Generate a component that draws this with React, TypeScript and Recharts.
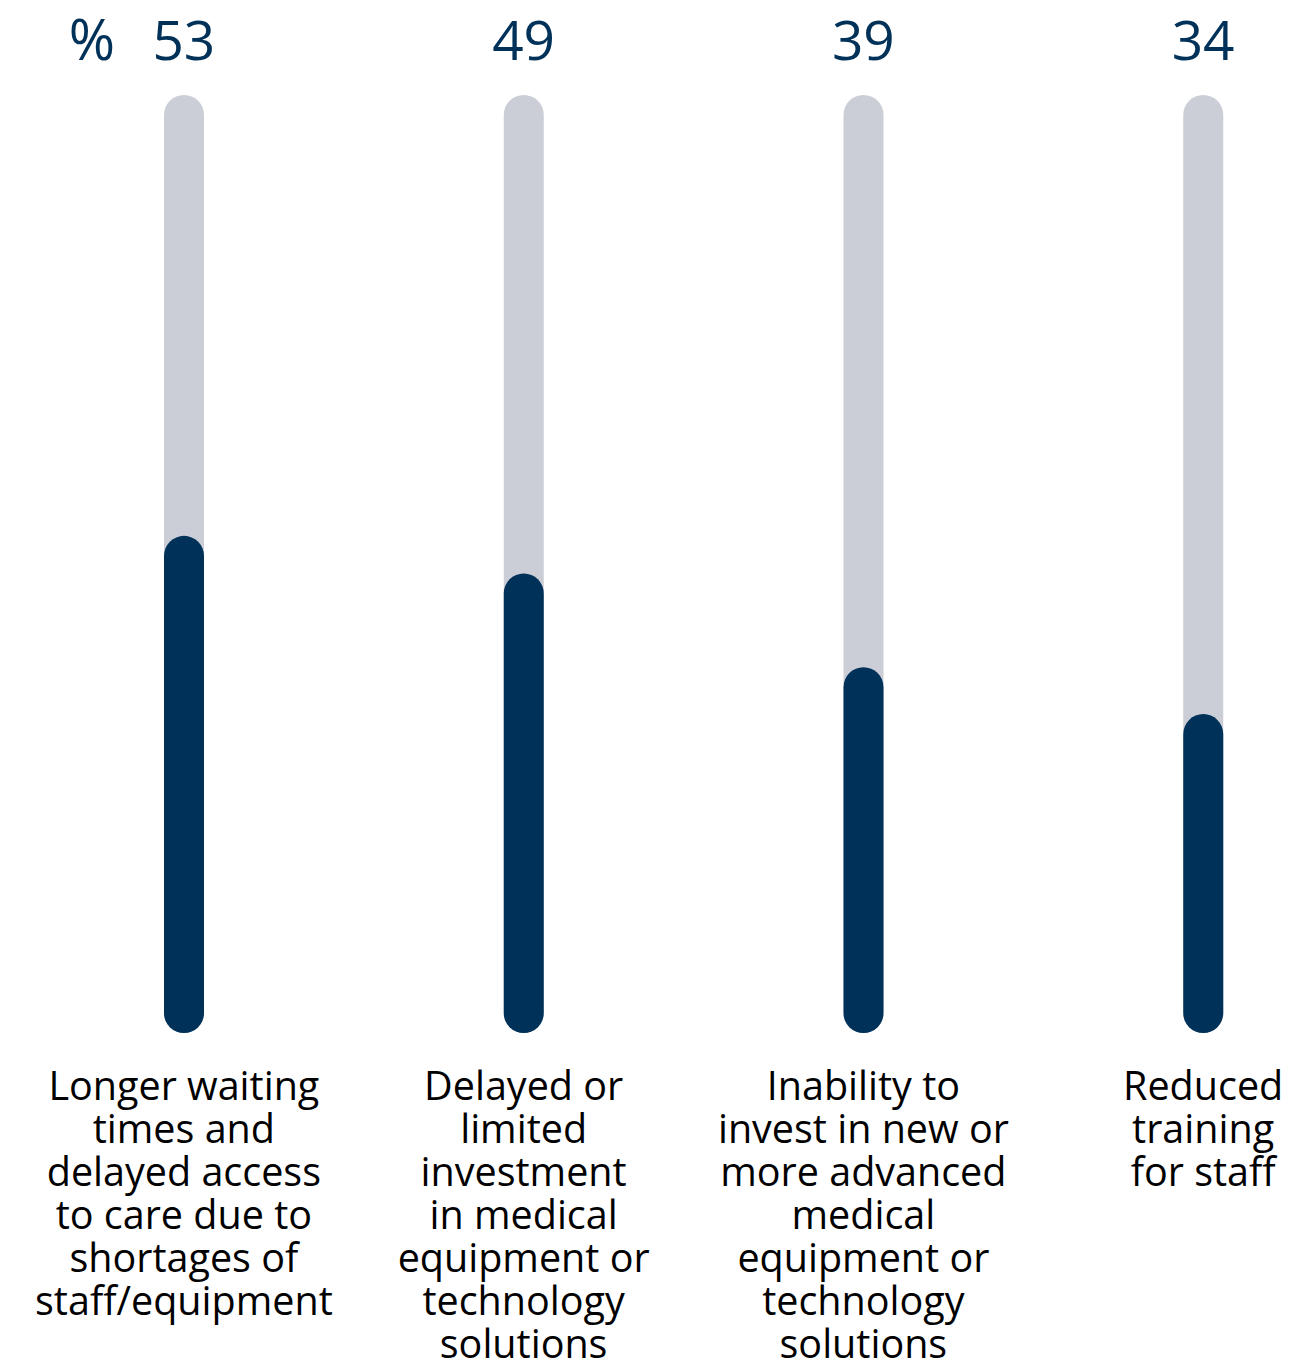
import { BarChart, Bar, XAxis, YAxis } from 'recharts';

const categories = ['waiting', 'investment', 'inability', 'training'];
const values = [53, 49, 39, 34];
const labelLines = [
  ['Longer waiting', 'times and', 'delayed access', 'to care due to', 'shortages of', 'staff/equipment'],
  ['Delayed or', 'limited', 'investment', 'in medical', 'equipment or', 'technology', 'solutions'],
  ['Inability to', 'invest in new or', 'more advanced', 'medical', 'equipment or', 'technology', 'solutions'],
  ['Reduced', 'training', 'for staff'],
];

const NAVY = '#003158';
const GREY = '#CBCED6';
const FONT = '"Open Sans", sans-serif';

const data = categories.map((c, i) => ({ name: c, value: values[i] }));

function ValueTick(props: any) {
  const { x, y, index } = props;
  return (
    <g>
      {index === 0 && (
        <text x={x - 92} y={y} dy={-27} textAnchor="middle" fontFamily={FONT} fontSize={56} fill={NAVY}>
          %
        </text>
      )}
      <text x={x} y={y} dy={-27} textAnchor="middle" fontFamily={FONT} fontSize={55} fill={NAVY}>
        {values[index]}
      </text>
    </g>
  );
}

function CategoryTick(props: any) {
  const { x, y, index } = props;
  const lines = labelLines[index] || [];
  return (
    <text x={x} y={y} textAnchor="middle" fontFamily={FONT} fontSize={39.5} fill="#000">
      {lines.map((l, i) => (
        <tspan key={i} x={x} dy={i === 0 ? 59 : 43}>
          {l}
        </tspan>
      ))}
    </text>
  );
}

export default function App() {
  return (
    <div style={{ position: 'absolute', left: 0, top: 0, background: '#fff' }}>
      <BarChart
        width={1291}
        height={1361}
        data={data}
        margin={{ top: 0, right: -82, bottom: 0, left: 14 }}
      >
        <XAxis
          xAxisId="top"
          orientation="top"
          dataKey="name"
          height={95}
          axisLine={false}
          tickLine={false}
          interval={0}
          tick={<ValueTick />}
        />
        <XAxis
          dataKey="name"
          height={328}
          axisLine={false}
          tickLine={false}
          interval={0}
          tick={<CategoryTick />}
        />
        <YAxis hide domain={[0, 100]} />
        <Bar
          dataKey="value"
          barSize={40}
          fill={NAVY}
          radius={20}
          background={{ fill: GREY, radius: 20 }}
          isAnimationActive={false}
        />
      </BarChart>
    </div>
  );
}
